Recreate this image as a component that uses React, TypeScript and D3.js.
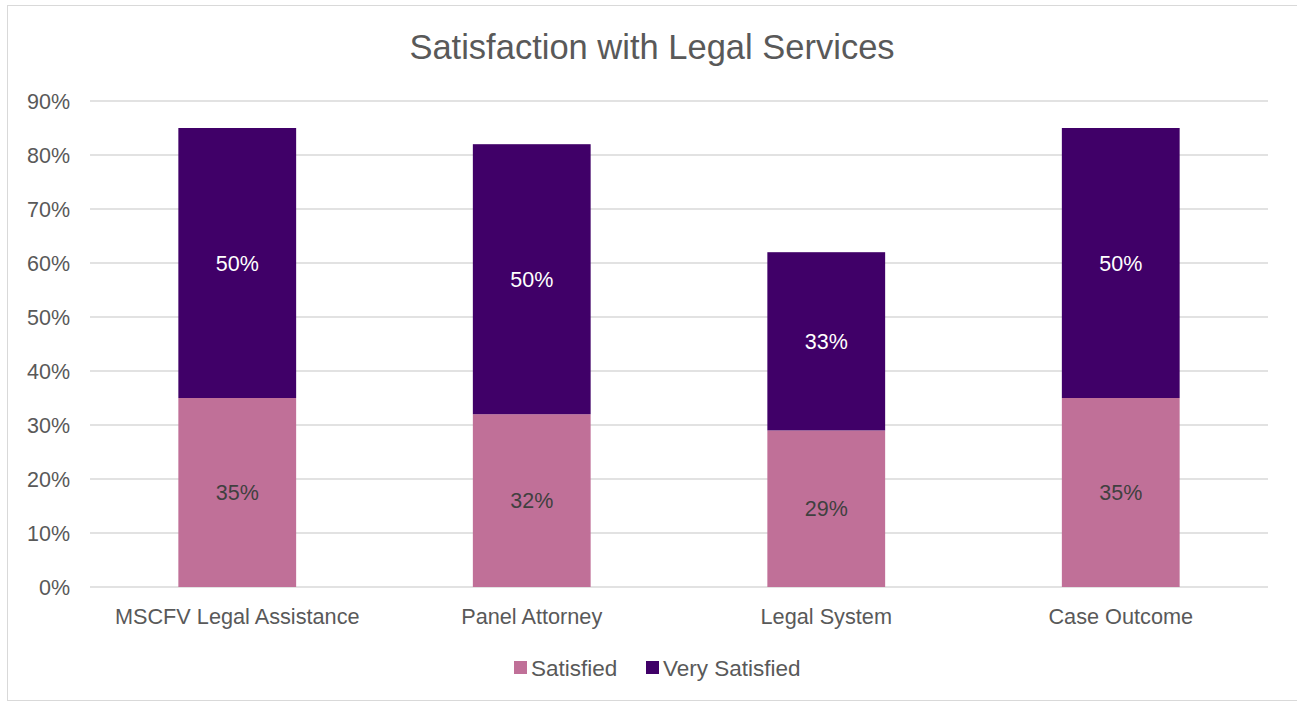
import React from "react";
import * as d3 from "d3";

const categories = ["MSCFV Legal Assistance", "Panel Attorney", "Legal System", "Case Outcome"];
const satisfied = [35, 32, 29, 35];
const verySatisfied = [50, 50, 33, 50];
const seriesNames = ["Satisfied", "Very Satisfied"];
const yTicks = [0, 10, 20, 30, 40, 50, 60, 70, 80, 90];

const W = 1297;
const H = 702;
const colors = ["#C07098", "#400068"];
const FONT = "'Liberation Sans', Arial, sans-serif";

export default function App() {
  const x = d3.scaleBand<string>().domain(categories).range([90, 1268]).paddingInner(0.6).paddingOuter(0.3);
  const y = d3.scaleLinear().domain([0, 90]).range([587, 101]);
  const rows = categories.map((c, i) => ({ cat: c, Satisfied: satisfied[i], "Very Satisfied": verySatisfied[i] }));
  const stack = d3.stack<any>().keys(seriesNames)(rows);

  return (
    <svg width={W} height={H} style={{ position: "fixed", left: 0, top: 0, background: "#fff" }} fontFamily={FONT}>
      <rect x={7.5} y={5.5} width={1300} height={695} fill="#fff" stroke="#d9d9d9" />
      <text x={652} y={59} textAnchor="middle" fontSize={34.5} fill="#595959">Satisfaction with Legal Services</text>
      {yTicks.map((t) => (
        <g key={t}>
          <line x1={90} x2={1268} y1={y(t)} y2={y(t)} stroke="#d9d9d9" strokeWidth={1.3} />
          <text x={70} y={y(t)} dy="0.35em" textAnchor="end" fontSize={21.5} fill="#595959">{t}%</text>
        </g>
      ))}
      {stack.map((s, si) => (
        <g key={s.key}>
          {s.map((d, i) => {
            const c = categories[i];
            const v = d[1] - d[0];
            return (
              <g key={c}>
                <rect x={x(c)!} width={x.bandwidth()} y={y(d[1])} height={y(d[0]) - y(d[1])} fill={colors[si]} />
                <text x={x(c)! + x.bandwidth() / 2} y={(y(d[0]) + y(d[1])) / 2} dy="0.35em" textAnchor="middle" fontSize={21.5} fill={si === 0 ? "#404040" : "#ffffff"}>{v}%</text>
              </g>
            );
          })}
        </g>
      ))}
      {categories.map((c) => (
        <text key={c} x={x(c)! + x.bandwidth() / 2} y={616} dy="0.35em" textAnchor="middle" fontSize={21.7} fill="#595959">{c}</text>
      ))}
      {seriesNames.map((n, i) => {
        const lx = [514, 646][i];
        return (
          <g key={n}>
            <rect x={lx} y={661} width={13} height={13} fill={colors[i]} />
            <text x={lx + 17} y={668} dy="0.35em" fontSize={22.5} fill="#595959">{n}</text>
          </g>
        );
      })}
    </svg>
  );
}
